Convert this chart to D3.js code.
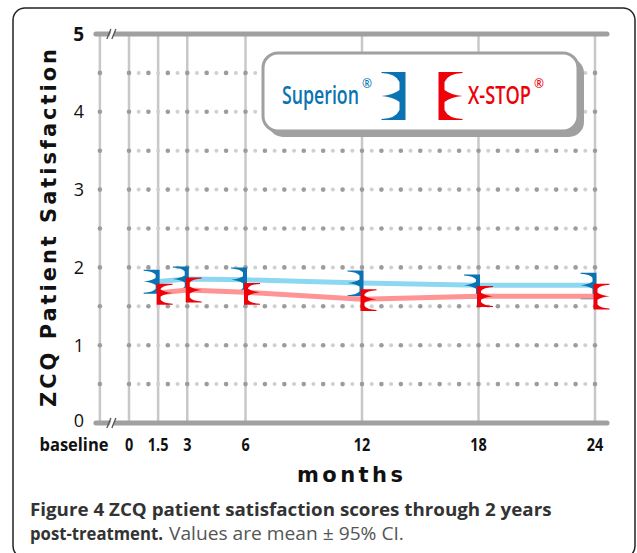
<!DOCTYPE html>
<html>
<head>
<meta charset="utf-8">
<script src="https://cdn.jsdelivr.net/npm/d3@7"></script>
<style>
  body { margin: 0; background: #fff; }
  svg { display: block; }
</style>
</head>
<body>
<svg id="chart"></svg>
<script>
// data (ZCQ satisfaction, mean and 95% CI)
var months = [1.5, 3, 6, 12, 18, 24];
var tickMonths = [0, 1.5, 3, 6, 12, 18, 24];
var tickLabels = ["0", "1.5", "3", "6", "12", "18", "24"];
var yTicks = [0, 1, 2, 3, 4, 5];

var superionMean = [1.82, 1.85, 1.84, 1.80, 1.77, 1.77];
var superionLow  = [1.66, 1.69, 1.67, 1.63, 1.60, 1.59];
var superionHigh = [1.97, 2.01, 2.00, 1.96, 1.91, 1.93];

var xstopMean = [1.67, 1.71, 1.68, 1.59, 1.63, 1.63];
var xstopLow  = [1.52, 1.55, 1.52, 1.44, 1.49, 1.46];
var xstopHigh = [1.79, 1.87, 1.80, 1.72, 1.76, 1.79];

var blue = "#0a74b2", blueLine = "#8cd8f2";
var red = "#ee0008", redLine = "#ff9494";

var W = 637, H = 553;
var svg = d3.select("#chart").attr("width", W).attr("height", H);

// squeeze a text horizontally (condensed look); k is a factor, or w a target width
function squeeze(sel, k, w) {
  sel.each(function() {
    var t = d3.select(this);
    var tx = +t.attr("x"), ty = +t.attr("y");
    var nat = this.getComputedTextLength();
    var f = w ? w / nat : k;
    t.attr("x", 0).attr("y", 0)
     .attr("transform", "translate(" + tx + "," + ty + ") scale(" + f + ",1)");
  });
}

// outer frame
svg.append("rect")
  .attr("x", 13).attr("y", 8)
  .attr("width", 622).attr("height", 550)
  .attr("rx", 12)
  .attr("fill", "none")
  .attr("stroke", "#222")
  .attr("stroke-width", 1.5);

var x = d3.scaleLinear().domain([0, 24]).range([129, 595]);
var y = d3.scaleLinear().domain([0, 5]).range([423, 34]);
var baseX = x(-1.5);

// vertical grid lines
var vlines = [-1.5].concat(tickMonths);
svg.append("g").selectAll("line")
  .data(vlines)
  .join("line")
  .attr("x1", d => x(d)).attr("x2", d => x(d))
  .attr("y1", y(5)).attr("y2", y(0))
  .attr("stroke", "#c8c8c8")
  .attr("stroke-width", 2.5);

// dotted horizontal grid
var rows = d3.range(1, 10).map(d => d * 0.5);
var dotMonths = [-1.5].concat(d3.range(0, 49).map(d => d * 0.5));
var dots = [];
rows.forEach(function(r) {
  dotMonths.forEach(function(m) { dots.push({v: r, m: m}); });
});
svg.append("g").selectAll("circle")
  .data(dots)
  .join("circle")
  .attr("cx", d => x(d.m))
  .attr("cy", d => y(d.v))
  .attr("r", d => (d.m % 1 === 0 || d.m < 0) ? 2.3 : 2)
  .attr("fill", d => (d.m % 1 === 0 || d.m < 0) ? "#9c9c9c" : "#d0d0d0");

// axis lines at 0 and 5 with break marks
[0, 5].forEach(function(v) {
  var yy = y(v);
  svg.append("line")
    .attr("x1", baseX - 4).attr("x2", x(24) + 12)
    .attr("y1", yy).attr("y2", yy)
    .attr("stroke", "#a0a0a0")
    .attr("stroke-width", 5)
    .attr("stroke-linecap", "round");
  svg.append("path")
    .attr("d", "M" + (baseX + 9) + "," + (yy + 4) + "L" + (baseX + 12) + "," + (yy - 4) +
               "L" + (baseX + 15) + "," + (yy - 4) + "L" + (baseX + 12) + "," + (yy + 4) + "Z")
    .attr("fill", "#fff");
  [0, 5].forEach(function(o) {
    svg.append("line")
      .attr("x1", baseX + 7 + o).attr("y1", yy + 5)
      .attr("x2", baseX + 11 + o).attr("y2", yy - 5)
      .attr("stroke", "#555").attr("stroke-width", 1.3);
  });
});

// y tick labels
svg.append("g").selectAll("text")
  .data(yTicks)
  .join("text")
  .attr("x", 84)
  .attr("y", d => y(d) + (d === 0 ? 3.5 : 6.5))
  .attr("text-anchor", "end")
  .attr("font-family", "'Open Sans', sans-serif")
  .attr("font-size", d => d === 5 ? 19 : 18)
  .attr("font-weight", d => d === 5 ? "bold" : "normal")
  .attr("fill", "#111")
  .text(d => d);

// x tick labels
var xLab = svg.append("g")
  .attr("font-family", "'Open Sans', sans-serif")
  .attr("font-weight", "bold")
  .attr("font-size", 18.5)
  .attr("fill", "#111");
xLab.selectAll("text.tick")
  .data(tickMonths)
  .join("text")
  .attr("class", "tick")
  .attr("x", d => x(d))
  .attr("y", 451)
  .attr("text-anchor", "middle")
  .text((d, i) => tickLabels[i])
  .call(squeeze, 0.78);
xLab.append("text")
  .attr("x", 74).attr("y", 451)
  .attr("text-anchor", "middle")
  .text("baseline")
  .call(squeeze, null, 69);

// axis titles
svg.append("text")
  .attr("x", 350).attr("y", 482)
  .attr("text-anchor", "middle")
  .attr("font-family", "'DejaVu Sans', sans-serif")
  .attr("font-weight", "bold")
  .attr("font-size", 21)
  .attr("textLength", 106)
  .attr("lengthAdjust", "spacing")
  .attr("fill", "#111")
  .text("months");

svg.append("text")
  .attr("transform", "translate(56,228) rotate(-90)")
  .attr("text-anchor", "middle")
  .attr("font-family", "'DejaVu Sans', sans-serif")
  .attr("font-weight", "bold")
  .attr("font-size", 21)
  .attr("textLength", 358)
  .attr("lengthAdjust", "spacing")
  .attr("fill", "#111")
  .text("ZCQ Patient Satisfaction");

// error-bar glyph: spine at cx, prongs pointing dir (+1 right, -1 left)
function glyph(cx, yt, ym, yb, dir, L, sw, h, a) {
  var outer = cx - dir * sw / 2, inner = cx + dir * sw / 2, tip = inner + dir * L;
  var p = d3.path();
  p.moveTo(outer, yt);
  p.lineTo(tip, yt);
  p.lineTo(tip, yt + 1);
  p.quadraticCurveTo(inner + dir * L * 0.2, yt + 1.5, inner, yt + h);
  p.lineTo(inner, ym - a);
  p.quadraticCurveTo(inner + dir * L * 0.35, ym - a * 0.2, tip, ym);
  p.quadraticCurveTo(inner + dir * L * 0.35, ym + a * 0.2, inner, ym + a);
  p.lineTo(inner, yb - h);
  p.quadraticCurveTo(inner + dir * L * 0.2, yb - 1.5, tip, yb - 1);
  p.lineTo(tip, yb);
  p.lineTo(outer, yb);
  p.closePath();
  return p.toString();
}

var line = d3.line().x(d => x(d[0])).y(d => y(d[1]));

function drawSeries(mean, low, high, lineColor, color, dir) {
  svg.append("path")
    .datum(months.map((m, i) => [m, mean[i]]))
    .attr("d", line)
    .attr("fill", "none")
    .attr("stroke", lineColor)
    .attr("stroke-width", 5);
  svg.append("g").selectAll("path")
    .data(months)
    .join("path")
    .attr("d", (m, i) => glyph(x(m) + dir * 0.5, y(high[i]), y(mean[i]), y(low[i]), dir, 12, 4, 5, 3.5))
    .attr("fill", color);
}

drawSeries(superionMean, superionLow, superionHigh, blueLine, blue, -1);
drawSeries(xstopMean, xstopLow, xstopHigh, redLine, red, 1);

// legend
var lg = svg.append("g");
lg.append("rect")
  .attr("x", 268).attr("y", 58).attr("width", 316).attr("height", 79)
  .attr("rx", 15).attr("fill", "#a0a0a0");
lg.append("rect")
  .attr("x", 263).attr("y", 53).attr("width", 315).attr("height", 78)
  .attr("rx", 15).attr("fill", "#fff")
  .attr("stroke", "#a0a0a0").attr("stroke-width", 3);

lg.append("path")
  .attr("d", glyph(402.5, 72, 96, 120, -1, 18, 6, 10, 6))
  .attr("fill", blue);
lg.append("path")
  .attr("d", glyph(441.5, 72, 96, 120, 1, 18, 6, 10, 6))
  .attr("fill", red);

var legFont = "'Open Sans', sans-serif";
var legItems = [
  {name: "Superion", x: 282, w: 77, reg: 362, color: blue},
  {name: "X-STOP", x: 468, w: 63, reg: 534, color: red}
];
legItems.forEach(function(it) {
  lg.append("text")
    .attr("x", it.x).attr("y", 104)
    .attr("font-family", legFont).attr("font-weight", 600)
    .attr("font-size", 25).attr("fill", it.color)
    .text(it.name)
    .call(squeeze, null, it.w);
  lg.append("text")
    .attr("x", it.reg).attr("y", 88)
    .attr("font-family", legFont).attr("font-weight", 600)
    .attr("font-size", 12).attr("fill", it.color)
    .text("®");
});

// caption
var capFont = "'Open Sans', sans-serif";
svg.append("text")
  .attr("x", 30).attr("y", 516)
  .attr("font-family", capFont).attr("font-weight", "bold")
  .attr("font-size", 18).attr("fill", "#333")
  .text("Figure 4 ZCQ patient satisfaction scores through 2 years")
  .call(squeeze, null, 522);
svg.append("text")
  .attr("x", 30).attr("y", 540)
  .attr("font-family", capFont).attr("font-weight", "bold")
  .attr("font-size", 18).attr("fill", "#333")
  .text("post-treatment.")
  .call(squeeze, null, 133);
svg.append("text")
  .attr("x", 169).attr("y", 540)
  .attr("font-family", capFont)
  .attr("font-size", 18).attr("fill", "#555")
  .text("Values are mean ± 95% CI.")
  .call(squeeze, null, 235);
</script>
</body>
</html>
